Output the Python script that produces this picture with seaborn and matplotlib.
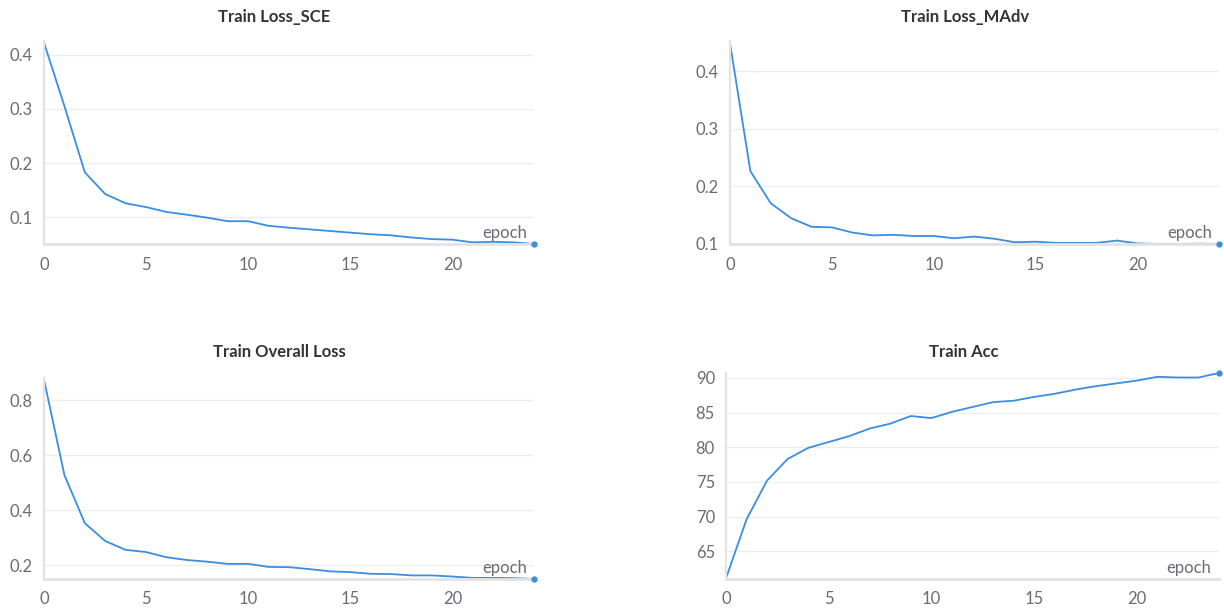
import matplotlib
matplotlib.use("Agg")
import matplotlib.pyplot as plt
import seaborn as sns
import pandas as pd
import numpy as np

# --------------------------------------------------------------------------
# data (25 epochs)
# --------------------------------------------------------------------------
epochs = list(range(25))

loss_sce = [0.422, 0.305, 0.183, 0.143, 0.126, 0.119, 0.110, 0.105, 0.0995, 0.093,
            0.093, 0.0845, 0.081, 0.078, 0.075, 0.072, 0.069, 0.067, 0.063, 0.060,
            0.059, 0.054, 0.055, 0.054, 0.051]

loss_madv = [0.449, 0.226, 0.170, 0.144, 0.129, 0.128, 0.119, 0.114, 0.115, 0.113,
             0.113, 0.109, 0.112, 0.108, 0.102, 0.103, 0.101, 0.101, 0.101, 0.105,
             0.100, 0.099, 0.099, 0.0995, 0.099]

loss_overall = [0.875, 0.528, 0.353, 0.288, 0.256, 0.248, 0.229, 0.219, 0.213, 0.205,
                0.205, 0.194, 0.193, 0.186, 0.178, 0.175, 0.169, 0.168, 0.163, 0.163,
                0.159, 0.154, 0.154, 0.153, 0.150]

train_acc = [61.1, 69.6, 75.2, 78.3, 79.9, 80.75, 81.6, 82.7, 83.4, 84.5,
             84.2, 85.1, 85.8, 86.5, 86.7, 87.25, 87.7, 88.3, 88.8, 89.2,
             89.6, 90.15, 90.05, 90.05, 90.7]

titles = ["Train Loss_SCE", "Train Loss_MAdv", "Train Overall Loss", "Train Acc"]
series = [loss_sce, loss_madv, loss_overall, train_acc]
ylims = [(0.051, 0.425), (0.099, 0.453), (0.150, 0.881), (61.0, 90.7)]
yticks = [[0.1, 0.2, 0.3, 0.4], [0.1, 0.2, 0.3, 0.4],
          [0.2, 0.4, 0.6, 0.8], [65, 70, 75, 80, 85, 90]]

# axes boxes in figure pixels: left, top, right, bottom
boxes = [(44, 41, 534, 244), (730, 41, 1219, 244),
         (44, 378, 534, 579), (726, 373, 1219, 579)]
# title centres in figure pixels
title_pos = [(274, 17), (965, 17), (279, 352), (964, 352)]

LINE = "#3a8ee0"
TICK = "#6b6b76"
SPINE = "#e3e3e6"

sns.set_style("white")
plt.rcParams["font.family"] = ["Lato", "DejaVu Sans"]

W, H = 1224, 608
fig = plt.figure(figsize=(W / 100, H / 100), dpi=100)

for i in range(4):
    l, t, r, b = boxes[i]
    ax = fig.add_axes([l / W, 1 - b / H, (r - l) / W, (b - t) / H])
    df = pd.DataFrame({"epoch": epochs, "value": series[i]})
    sns.lineplot(data=df, x="epoch", y="value", ax=ax, color=LINE, linewidth=1.3)
    ax.plot(df["epoch"].iloc[-1], df["value"].iloc[-1], "o", color=LINE,
            markersize=3.5, clip_on=False, zorder=5)

    ax.set_xlim(0, 24)
    ax.set_ylim(*ylims[i])
    ax.set_xticks([0, 5, 10, 15, 20])
    ax.set_yticks(yticks[i])
    ax.set_xlabel("")
    ax.set_ylabel("")

    for yv in yticks[i]:
        ax.axhline(yv, xmin=0, xmax=0.998, color="#eeeeef", linewidth=1, zorder=0)

    for side in ["top", "right"]:
        ax.spines[side].set_visible(False)
    ax.spines["left"].set_color(SPINE)
    ax.spines["left"].set_linewidth(1.6)
    ax.spines["bottom"].set_color(SPINE)
    ax.spines["bottom"].set_linewidth(2.0)

    ax.tick_params(axis="y", length=0, pad=8, labelsize=12, labelcolor=TICK)
    ax.tick_params(axis="x", length=6, width=1.2, color=SPINE, pad=6,
                   labelsize=12, labelcolor=TICK, direction="inout")

    ax.text(0.985, 0.015, "epoch", transform=ax.transAxes, ha="right", va="bottom",
            fontsize=12, color=TICK)

    tx, ty = title_pos[i]
    fig.text(tx / W, 1 - ty / H, titles[i], ha="center", va="center",
             fontsize=12, fontweight="bold", color="#333338")

fig.savefig("out.png", dpi=100, facecolor="white")
